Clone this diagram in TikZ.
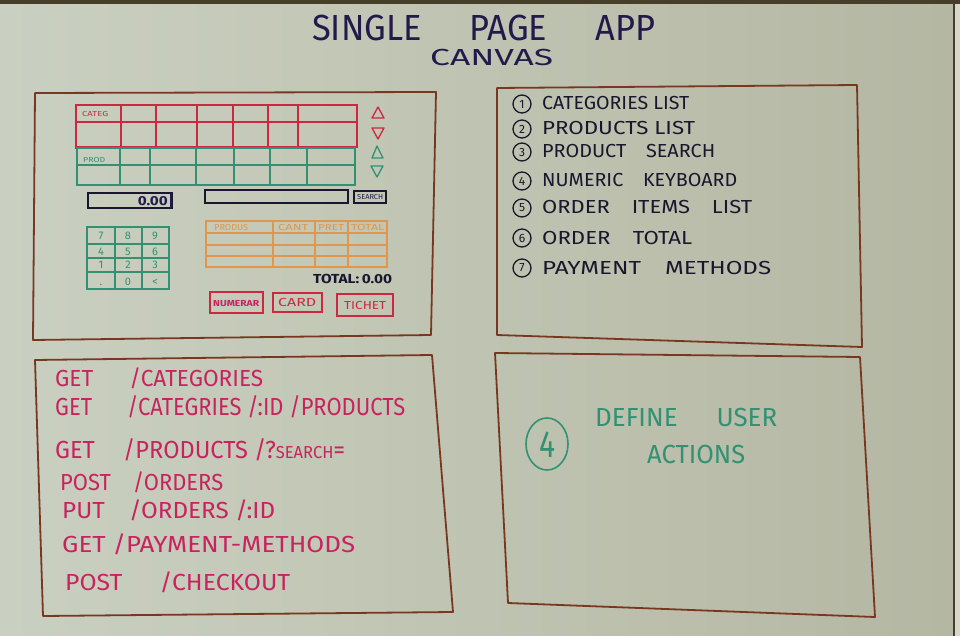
\documentclass[tikz,border=0pt]{standalone}
\usepackage{fontspec}
\setmainfont{Fira Sans}
\usepackage{graphicx}
\usetikzlibrary{shapes.geometric}

\definecolor{boardL}{RGB}{202,208,193}
\definecolor{boardR}{RGB}{180,183,162}
\definecolor{rim}{RGB}{70,62,40}
\definecolor{wall}{RGB}{215,215,205}
\definecolor{frame}{RGB}{122,55,32}
\definecolor{inkred}{RGB}{205,40,65}
\definecolor{inkteal}{RGB}{50,145,115}
\definecolor{inknavy}{RGB}{35,25,75}
\definecolor{inkmag}{RGB}{200,35,95}
\definecolor{inkorange}{RGB}{225,150,75}
\definecolor{inkdark}{RGB}{25,22,45}

% hand lettering: text stretched to a given width and cap height (in px)
\newcommand{\hw}[3]{\resizebox{#1pt}{#2pt}{\smash{#3}\vphantom{X}}}

\tikzset{
  panel/.style={draw=frame, line width=1.8pt, line join=round},
  txt/.style={inner sep=0pt, anchor=base west},
  txtc/.style={inner sep=0pt, anchor=base},
  cell/.style={line width=1.1pt},
  tri/.style={line width=1.3pt, line join=round},
}

\begin{document}
\begin{tikzpicture}[x=1pt,y=-1pt]
\useasboundingbox (0,0) rectangle (960,636);

% board surface and its rim
\shade[left color=boardL, right color=boardR] (0,0) rectangle (954,636);
\fill[wall] (954,0) rectangle (960,636);
\fill[rim] (0,0) rectangle (960,4);
\draw[rim, line width=2pt] (954,0) -- (954,636);

% title
\node[txt, inknavy] (title) at (312,41) {\hw{343}{25}{SINGLE\hspace{1.4em}PAGE\hspace{1.4em}APP}};
\node[txt, inknavy] (subtitle) at (430,66) {\hw{123}{16}{CANVAS}};

% ---------- panel 1: screen mock-up ----------
\draw[panel] (35,93) -- (436,92) -- (431,335) -- (33,340) -- cycle;

% categories strip
\draw[inkred, cell] (76,105) rectangle (357,147);
\draw[inkred, cell] (76,122) -- (357,122);
\foreach \x in {121,156,197,233,268,298} \draw[inkred, cell] (\x,105) -- (\x,147);
\draw[inkred, line width=2pt] (76,104) -- (76,149);
\draw[inkred, line width=2pt] (357,104) -- (357,146);
\node[txt, inkred] (categ) at (82,117) {\hw{26}{5}{CATEG}};

% products strip
\draw[inkteal, cell] (77,148) rectangle (355,185);
\draw[inkteal, cell] (77,165) -- (355,165);
\foreach \x in {120,150,196,234,270,307} \draw[inkteal, cell] (\x,148) -- (\x,185);
\node[txt, inkteal] (prod) at (83,163) {\hw{22}{5}{PROD}};

% scroll arrows
\draw[inkred, tri] (372,118) -- (378,107) -- (384,118) -- cycle;
\draw[inkred, tri] (372,128) -- (384,128) -- (378,139) -- cycle;
\draw[inkteal, tri] (372,158) -- (377,146) -- (383,158) -- cycle;
\draw[inkteal, tri] (371,166) -- (383,166) -- (377,177) -- cycle;

% amount display
\draw[inkdark, line width=1.7pt] (88,193) rectangle (172,208);
\draw[inknavy, line width=2.6pt] (171,193) -- (171,208);
\node[inknavy, inner sep=0pt, anchor=base east] (amount) at (168,205) {\hw{30}{9}{\bfseries 0.00}};

% search bar
\draw[inkdark, line width=1.5pt] (205,190) rectangle (348,203);
\draw[inkdark, line width=1.4pt] (354,191) rectangle (386,203);
\node[txt, inknavy] (search) at (357,200) {\hw{26}{5}{SEARCH}};

% numeric keypad
\draw[inkteal, cell] (87,227) rectangle (169,289);
\foreach \x in {115,142} \draw[inkteal, cell] (\x,227) -- (\x,289);
\foreach \y in {244,258,272} \draw[inkteal, cell] (87,\y) -- (169,\y);
\foreach \t/\x/\y [count=\i] in {7/101/240, 8/128/240, 9/155/240,
                                4/101/255, 5/128/255, 6/155/255,
                                1/101/269, 2/128/269, 3/155/269,
                                ./101/285, 0/128/285, </155/285}
  \node[txtc, inkteal, font=\fontsize{11}{11}\selectfont] (key\i) at (\x,\y) {\t};

% order items table
\draw[inkorange, cell] (206,221) rectangle (387,267);
\foreach \y in {233,245,256} \draw[inkorange, cell] (206,\y) -- (387,\y);
\foreach \x in {273,315,348} \draw[inkorange, cell] (\x,221) -- (\x,267);
\node[txt, inkorange] (hprod) at (214,230) {\hw{34}{6}{PRODUS}};
\node[txt, inkorange] (hcant) at (278,230) {\hw{30}{6}{CANT}};
\node[txt, inkorange] (hpret) at (318,230) {\hw{26}{6}{PRET}};
\node[txt, inkorange] (htotal) at (351,230) {\hw{33}{6}{TOTAL}};

% order total
\node[txt, inkdark] (total) at (313,283) {\hw{79}{9}{\bfseries TOTAL:\,0.00}};

% payment buttons
\draw[inkred, line width=1.4pt] (210,292) rectangle (263,313);
\node[txt, inkmag] (numerar) at (213,306) {\hw{46}{6}{\bfseries NUMERAR}};
\draw[inkred, line width=1.4pt] (273,293) rectangle (322,312);
\node[txt, inkred] (card) at (278,306) {\hw{38}{8}{CARD}};
\draw[inkred, line width=1.4pt] (337,294) rectangle (393,316);
\node[txt, inkred] (tichet) at (344,309) {\hw{42}{8}{TICHET}};

% ---------- panel 2: component list ----------
\draw[panel] (497,88) -- (857,85) -- (862,347) -- (497,335) -- cycle;
\foreach \n/\y/\w/\t [count=\i] in {
   1/110/147/{CATEGORIES LIST},
   2/135/153/{PRODUCTS LIST},
   3/158/173/{PRODUCT\hspace{1em}SEARCH},
   4/187/195/{NUMERIC\hspace{1em}KEYBOARD},
   5/214/210/{ORDER\hspace{1em}ITEMS\hspace{1em}LIST},
   6/244/150/{ORDER\hspace{1em}TOTAL},
   7/274/229/{PAYMENT\hspace{1em}METHODS}} {
  \node[circle, draw=inkdark, line width=1.3pt, minimum size=18pt, inner sep=0pt,
        text=inkdark, font=\fontsize{12}{12}\selectfont] (num\i) at (522,\y-6) {\n};
  \node[txt, inkdark] (item\i) at (542,\y) {\hw{\w}{13}{\t}};
}

% ---------- panel 3: REST endpoints ----------
\draw[panel] (35,360) -- (432,355) -- (453,612) -- (43,616) -- cycle;
\node[txt, inkmag] (api1) at (55,386) {\hw{208}{16}{GET\hspace{1.6em}/CATEGORIES}};
\node[txt, inkmag] (api2) at (55,415) {\hw{350}{17}{GET\hspace{1.6em}/CATEGRIES /:ID /PRODUCTS}};
\node[txt, inkmag] (api3) at (55,458) {\hw{290}{17}{GET\hspace{1.2em}/PRODUCTS /?{\fontsize{7}{7}\selectfont SEARCH}=}};
\node[txt, inkmag] (api4) at (60,490) {\hw{163}{16}{POST\hspace{1em}/ORDERS}};
\node[txt, inkmag] (api5) at (62,518) {\hw{213}{16}{PUT\hspace{1em}/ORDERS /:ID}};
\node[txt, inkmag] (api6) at (62,552) {\hw{293}{16}{GET /PAYMENT-METHODS}};
\node[txt, inkmag] (api7) at (65,590) {\hw{225}{16}{POST\hspace{1.5em}/CHECKOUT}};

% ---------- panel 4: next step ----------
\draw[panel] (495,353) -- (860,357) -- (875,617) -- (508,603) -- cycle;
\node[ellipse, draw=inkteal, line width=1.6pt, minimum width=42pt, minimum height=52pt,
      inner sep=0pt] (step4) at (547,444) {};
\node[inkteal, inner sep=0pt] (step4n) at (step4.center) {\hw{16}{26}{4}};
\node[txt, inkteal] (define) at (595,426) {\hw{182}{18}{DEFINE\hspace{1.5em}USER}};
\node[txt, inkteal] (actions) at (647,463) {\hw{98}{18}{ACTIONS}};

\end{tikzpicture}
\end{document}
